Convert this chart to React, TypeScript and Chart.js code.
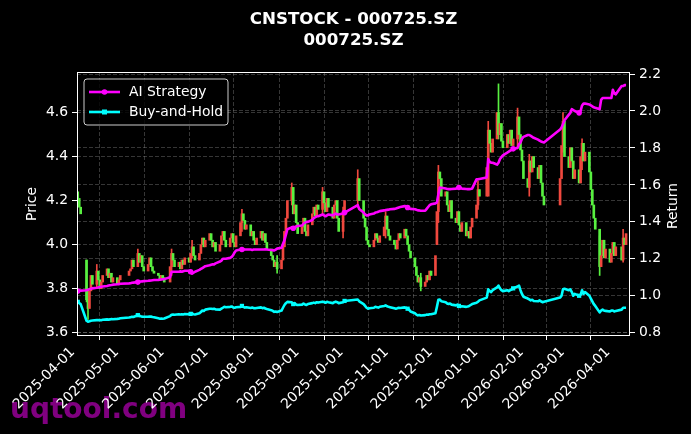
import React, { useEffect, useRef } from "react";
import { Chart, registerables } from "chart.js";
Chart.register(...registerables);

const TITLE_1 = "CNSTOCK - 000725.SZ";
const TITLE_2 = "000725.SZ";
const LEFT_LABEL = "Price";
const RIGHT_LABEL = "Return";
const WATERMARK = "uqtool.com";
const SERIES_NAMES = ["AI Strategy", "Buy-and-Hold"];

const FIRST_DAY = "2025-04-01";
const LAST_DAY = "2026-04-10";
const HOLIDAYS = [
  "2025-04-04", "2025-05-01", "2025-05-02", "2025-05-05", "2025-06-02",
  "2025-10-01", "2025-10-02", "2025-10-03", "2025-10-06", "2025-10-07", "2025-10-08",
  "2026-01-01", "2026-01-02", "2026-02-16", "2026-02-17", "2026-02-18", "2026-02-19",
  "2026-02-20", "2026-02-23", "2026-04-06",
];
const MONTH_TICKS = [
  "2025-04-01", "2025-05-01", "2025-06-01", "2025-07-01", "2025-08-01", "2025-09-01",
  "2025-10-01", "2025-11-01", "2025-12-01", "2026-01-01", "2026-02-01", "2026-03-01", "2026-04-01",
];
const PRICE_TICKS = [3.6, 3.8, 4.0, 4.2, 4.4, 4.6];
const RETURN_TICKS = [0.8, 1.0, 1.2, 1.4, 1.6, 1.8, 2.0, 2.2];

const FIRST_OPEN = 4.24;
const GAP_OPEN_DATES = ["2025-04-07", "2025-12-02", "2026-01-06"];
const GAP_OPENS = [3.93, 4.00, 4.22];
const CLOSE = [
  // Apr 2025
  4.21, 4.17, 4.14, 3.75, 3.71, 3.79, 3.86, 3.82, 3.88, 3.84, 3.80, 3.83, 3.86, 3.89, 3.85, 3.87, 3.83, 3.85, 3.82, 3.84, 3.86,
  // May
  3.88, 3.89, 3.93, 3.90, 3.96, 3.92, 3.95, 3.90, 3.88, 3.91, 3.94, 3.90, 3.88, 3.87, 3.86, 3.84, 3.86, 3.85, 3.83,
  // Jun
  3.90, 3.96, 3.93, 3.90, 3.92, 3.89, 3.93, 3.91, 3.94, 3.92, 3.96, 3.99, 3.95, 3.93, 3.96, 4.00, 4.03, 3.99, 4.02, 4.05,
  // Jul
  4.02, 3.99, 4.01, 3.97, 4.00, 4.04, 4.06, 4.02, 3.99, 4.03, 4.05, 4.01, 3.99, 4.04, 4.10, 4.14, 4.11, 4.07, 4.09, 4.04, 4.06, 4.02, 4.00,
  // Aug
  4.03, 4.06, 4.02, 4.05, 4.01, 3.98, 3.95, 3.93, 3.90, 3.92, 3.89, 3.93, 3.99, 4.06, 4.12, 4.20, 4.26, 4.14, 4.18, 4.10, 4.05,
  // Sep
  4.08, 4.12, 4.06, 4.04, 4.09, 4.14, 4.17, 4.13, 4.18, 4.16, 4.24, 4.19, 4.15, 4.21, 4.17, 4.12, 4.18, 4.20, 4.12, 4.06, 4.15, 4.20,
  // Oct
  4.30, 4.20, 4.12, 4.08, 4.02, 4.00, 3.99, 4.02, 4.05, 4.03, 4.01, 4.04, 4.08, 4.13, 4.07, 4.04, 4.02,
  // Nov
  4.00, 3.98, 4.02, 4.05, 4.03, 4.07, 4.04, 4.00, 3.97, 3.94, 3.90, 3.86, 3.83, 3.85, 3.81, 3.83, 3.86, 3.84, 3.88, 3.86,
  // Dec
  3.95, 4.15, 4.33, 4.30, 4.22, 4.24, 4.18, 4.15, 4.20, 4.12, 4.10, 4.15, 4.09, 4.06, 4.10, 4.04, 4.06, 4.03, 4.08, 4.12, 4.18, 4.25, 4.22,
  // Jan 2026
  4.35, 4.52, 4.46, 4.42, 4.48, 4.60, 4.50, 4.55, 4.47, 4.44, 4.50, 4.46, 4.52, 4.45, 4.48, 4.58, 4.50, 4.43, 4.38, 4.30,
  // Feb
  4.26, 4.38, 4.33, 4.40, 4.35, 4.30, 4.36, 4.28, 4.22, 4.18, 4.30, 4.45, 4.56, 4.40,
  // Mar
  4.35, 4.44, 4.38, 4.30, 4.34, 4.28, 4.40, 4.46, 4.38, 4.42, 4.33, 4.25, 4.18, 4.12, 4.07, 3.90, 3.95, 4.02, 3.94, 3.98, 3.92, 3.96,
  // Apr
  4.01, 3.95, 3.99, 3.93, 4.03, 4.00, 4.05,
];

const AI_STRATEGY = [
  1.026, 1.027, 1.028, 1.03, 1.033, 1.035, 1.038, 1.04, 1.043, 1.045, 1.047, 1.049, 1.05, 1.053, 1.055, 1.057, 1.058, 1.06, 1.062, 1.063, 1.065,
  1.067, 1.068, 1.07, 1.071, 1.074, 1.076, 1.077, 1.078, 1.079, 1.081, 1.082, 1.083, 1.084, 1.085, 1.086, 1.087, 1.088, 1.089, 1.09,
  1.10, 1.13, 1.13, 1.13, 1.13, 1.132, 1.13, 1.133, 1.135, 1.135, 1.13, 1.12, 1.125, 1.13, 1.14, 1.145, 1.15, 1.155, 1.16, 1.165,
  1.168, 1.17, 1.17, 1.175, 1.185, 1.19, 1.2, 1.2, 1.2, 1.205, 1.21, 1.22, 1.235, 1.245, 1.25, 1.25, 1.252, 1.25, 1.25, 1.25, 1.248, 1.25, 1.25,
  1.25, 1.25, 1.25, 1.25, 1.252, 1.25, 1.248, 1.247, 1.245, 1.25, 1.255, 1.26, 1.28, 1.30, 1.33, 1.36, 1.37, 1.365, 1.37, 1.375, 1.378,
  1.38, 1.39, 1.395, 1.40, 1.40, 1.41, 1.42, 1.425, 1.43, 1.43, 1.44, 1.435, 1.43, 1.435, 1.44, 1.435, 1.44, 1.445, 1.44, 1.44, 1.445, 1.45,
  1.49, 1.47, 1.45, 1.44, 1.435, 1.435, 1.44, 1.445, 1.45, 1.452, 1.455, 1.458, 1.462, 1.464, 1.465, 1.466, 1.468,
  1.47, 1.472, 1.475, 1.478, 1.48, 1.485, 1.484, 1.478, 1.472, 1.47, 1.468, 1.465, 1.462, 1.462, 1.46, 1.46, 1.47, 1.48, 1.49, 1.495,
  1.50, 1.505, 1.55, 1.586, 1.585, 1.58, 1.578, 1.577, 1.577, 1.578, 1.58, 1.585, 1.586, 1.583, 1.58, 1.578, 1.577, 1.577, 1.578, 1.58, 1.63, 1.63, 1.632,
  1.64, 1.74, 1.725, 1.72, 1.72, 1.71, 1.72, 1.74, 1.75, 1.76, 1.775, 1.78, 1.785, 1.79, 1.795, 1.80, 1.82, 1.83, 1.85, 1.86,
  1.87, 1.87, 1.865, 1.86, 1.855, 1.845, 1.84, 1.835, 1.832, 1.83, 1.90, 1.91, 1.93, 1.95,
  1.98, 1.99, 2.01, 2.005, 2.0, 1.99, 2.0, 2.03, 2.04, 2.04, 2.035, 2.03, 2.025, 2.02, 2.017, 2.01, 2.06, 2.07, 2.07, 2.07, 2.07, 2.07,
  2.115, 2.095, 2.09, 2.135, 2.135, 2.14, 2.14,
];

const BUY_AND_HOLD = [
  0.967, 0.96, 0.955, 0.865, 0.86, 0.862, 0.865, 0.866, 0.868, 0.868, 0.867, 0.868, 0.87, 0.872, 0.871, 0.872, 0.874, 0.873, 0.875, 0.876, 0.878,
  0.882, 0.884, 0.886, 0.885, 0.895, 0.892, 0.889, 0.887, 0.886, 0.886, 0.888, 0.887, 0.885, 0.884, 0.878, 0.876, 0.877, 0.876, 0.877,
  0.89, 0.897, 0.898, 0.897, 0.9, 0.899, 0.9, 0.899, 0.901, 0.9, 0.902, 0.905, 0.9, 0.899, 0.905, 0.912, 0.92, 0.918, 0.925, 0.93,
  0.93, 0.928, 0.93, 0.926, 0.925, 0.93, 0.935, 0.94, 0.938, 0.94, 0.942, 0.937, 0.935, 0.938, 0.94, 0.945, 0.94, 0.936, 0.938, 0.934, 0.936, 0.933, 0.932,
  0.934, 0.937, 0.933, 0.935, 0.931, 0.928, 0.922, 0.918, 0.913, 0.915, 0.912, 0.92, 0.935, 0.95, 0.96, 0.967, 0.965, 0.955, 0.96, 0.952, 0.95,
  0.952, 0.958, 0.953, 0.95, 0.955, 0.96, 0.963, 0.96, 0.965, 0.963, 0.968, 0.966, 0.962, 0.967, 0.965, 0.96, 0.965, 0.968, 0.965, 0.96, 0.965, 0.972,
  0.98, 0.97, 0.955, 0.945, 0.935, 0.93, 0.932, 0.935, 0.94, 0.938, 0.936, 0.94, 0.945, 0.948, 0.943, 0.94, 0.938,
  0.932, 0.93, 0.932, 0.935, 0.934, 0.937, 0.935, 0.93, 0.925, 0.915, 0.905, 0.898, 0.894, 0.896, 0.893, 0.895, 0.898, 0.897, 0.9, 0.9,
  0.905, 0.94, 0.978, 0.98, 0.97, 0.965, 0.958, 0.955, 0.958, 0.952, 0.948, 0.952, 0.945, 0.94, 0.943, 0.94, 0.942, 0.945, 0.95, 0.955, 0.962, 0.968, 0.975,
  0.99, 1.035, 1.025, 1.02, 1.03, 1.045, 1.055, 1.04, 1.03, 1.025, 1.03, 1.025, 1.03, 1.035, 1.04, 1.05, 1.055, 1.03, 1.01, 0.995,
  0.985, 0.98, 0.975, 0.978, 0.972, 0.97, 0.975, 0.97, 0.965, 0.968, 0.99, 1.0, 1.035, 1.038,
  1.03, 1.035, 1.02, 1.0, 1.01, 1.0, 1.005, 1.03, 1.01, 1.02, 1.0, 0.985, 0.97, 0.955, 0.945, 0.91, 0.92, 0.925, 0.92, 0.918, 0.915, 0.92,
  0.92, 0.915, 0.918, 0.925, 0.935, 0.935, 0.935,
];

// notable wicks (date, low, high)
const WICK_DATES = [
  "2025-04-07", "2025-04-08", "2025-04-14", "2025-05-12", "2025-06-04", "2025-06-18", "2025-07-22", "2025-08-15",
  "2025-08-25", "2025-09-15", "2025-09-29", "2025-10-09", "2025-10-28", "2025-11-21", "2025-12-03", "2025-12-30",
  "2026-01-06", "2026-01-13", "2026-01-26", "2026-02-03", "2026-02-26", "2026-03-11", "2026-03-23", "2026-04-08",
];
const WICK_LOW = [3.74, 3.66, 3.80, 3.90, 3.86, 3.94, 4.06, 3.87, 4.18, 4.14, 4.03, 4.17, 4.03, 3.79, 4.10, 4.16, 4.30, 4.48, 4.44, 4.22, 4.42, 4.34, 3.86, 3.92];
const WICK_HIGH = [3.93, 3.80, 3.91, 3.98, 3.98, 4.02, 4.16, 3.95, 4.28, 4.26, 4.17, 4.34, 4.15, 3.87, 4.36, 4.29, 4.56, 4.73, 4.62, 4.41, 4.60, 4.48, 4.04, 4.07];

const UP = "#f0483e";
const DOWN = "#58f040";
const MAGENTA = "#ff00ff";
const CYAN = "#00ffff";
const FONT = "'DejaVu Sans', sans-serif";

const DAY = 86400000;
const t0 = Date.parse(FIRST_DAY + "T00:00:00Z");
const offsetOf = (iso: string) => (Date.parse(iso + "T00:00:00Z") - t0) / DAY;
const isoOf = (ms: number) => new Date(ms).toISOString().slice(0, 10);

function tradingDays(): string[] {
  const out: string[] = [];
  const end = Date.parse(LAST_DAY + "T00:00:00Z");
  for (let t = t0; t <= end; t += DAY) {
    const wd = new Date(t).getUTCDay();
    const iso = isoOf(t);
    if (wd === 0 || wd === 6 || HOLIDAYS.includes(iso)) continue;
    out.push(iso);
  }
  return out;
}

export default function App() {
  const ref = useRef<HTMLCanvasElement | null>(null);
  useEffect(() => {
    document.body.style.margin = "0";
    document.body.style.background = "#000";
    const dates = tradingDays();
    const n = Math.min(dates.length, CLOSE.length, AI_STRATEGY.length, BUY_AND_HOLD.length);
    const xs = dates.slice(0, n).map(offsetOf);
    const opens = CLOSE.slice(0, n).map((_, i) => {
      const g = GAP_OPEN_DATES.indexOf(dates[i]);
      if (g >= 0) return GAP_OPENS[g];
      return i === 0 ? FIRST_OPEN : CLOSE[i - 1];
    });
    const candleData = xs.map((x, i) => ({ x, y: [opens[i], CLOSE[i]] }));
    const candleColors = xs.map((_, i) => (CLOSE[i] >= opens[i] ? UP : DOWN));
    const wickData = WICK_DATES.map((d, i) => ({ x: offsetOf(d), y: [WICK_LOW[i], WICK_HIGH[i]] }));
    const wickColors = WICK_DATES.map((d) => {
      const i = dates.indexOf(d);
      return i >= 0 && CLOSE[i] >= opens[i] ? UP : DOWN;
    });
    const aiData = xs.map((x, i) => ({ x, y: AI_STRATEGY[i] }));
    const bhData = xs.map((x, i) => ({ x, y: BUY_AND_HOLD[i] }));
    const monthVals = MONTH_TICKS.map(offsetOf);

    const decor = {
      id: "decor",
      beforeDraw(chart: any) {
        const ctx = chart.ctx;
        ctx.save();
        ctx.fillStyle = "#000";
        ctx.fillRect(0, 0, chart.width, chart.height);
        ctx.restore();
      },
      afterDraw(chart: any) {
        const ctx = chart.ctx;
        const a = chart.chartArea;
        ctx.save();
        // frame
        ctx.strokeStyle = "#ffffff";
        ctx.lineWidth = 1;
        ctx.strokeRect(a.left + 0.5, a.top + 0.5, a.right - a.left - 1, a.bottom - a.top);
        // watermark (under the tick labels)
        ctx.font = `bold 28px ${FONT}`;
        ctx.textAlign = "left";
        ctx.textBaseline = "alphabetic";
        ctx.fillStyle = "rgba(150,0,150,0.85)";
        ctx.fillText(WATERMARK, 10, 418);
        // x tick labels, rotated 45 deg, bbox right at tick, bbox top below tick mark
        ctx.fillStyle = "#ffffff";
        ctx.font = `13.9px ${FONT}`;
        const xs2 = chart.scales.x;
        const asc = 13.9 * 0.76, desc = 13.9 * 0.24;
        const c = Math.SQRT1_2;
        MONTH_TICKS.forEach((lab, i) => {
          const px = xs2.getPixelForValue(monthVals[i]);
          const w = ctx.measureText(lab).width;
          const X = px - (w * c + desc * c);
          const Y = a.bottom + 10 + w * c + asc * c;
          ctx.save();
          ctx.translate(X, Y);
          ctx.rotate(-Math.PI / 4);
          ctx.fillText(lab, 0, 0);
          ctx.restore();
        });
        // title
        ctx.fillStyle = "#ffffff";
        ctx.textAlign = "center";
        ctx.textBaseline = "alphabetic";
        ctx.font = `bold 16.7px ${FONT}`;
        ctx.fillText(TITLE_1, 353.5, 24);
        ctx.fillText(TITLE_2, 353.5, 45);
        // axis titles
        ctx.font = `13.9px ${FONT}`;
        ctx.textBaseline = "middle";
        ctx.save();
        ctx.translate(32, 204);
        ctx.rotate(-Math.PI / 2);
        ctx.fillText(LEFT_LABEL, 0, 0);
        ctx.restore();
        ctx.save();
        ctx.translate(673, 206);
        ctx.rotate(-Math.PI / 2);
        ctx.fillText(RIGHT_LABEL, 0, 0);
        ctx.restore();
        // legend
        const bx = 84, by = 79, bw = 144, bh = 46, r = 3;
        ctx.beginPath();
        ctx.moveTo(bx + r, by);
        ctx.arcTo(bx + bw, by, bx + bw, by + bh, r);
        ctx.arcTo(bx + bw, by + bh, bx, by + bh, r);
        ctx.arcTo(bx, by + bh, bx, by, r);
        ctx.arcTo(bx, by, bx + bw, by, r);
        ctx.closePath();
        ctx.fillStyle = "rgba(0,0,0,0.8)";
        ctx.fill();
        ctx.strokeStyle = "rgba(255,255,255,0.8)";
        ctx.lineWidth = 1;
        ctx.stroke();
        const rows = [
          { y: 92, color: MAGENTA, label: SERIES_NAMES[0], square: false },
          { y: 112, color: CYAN, label: SERIES_NAMES[1], square: true },
        ];
        rows.forEach((row) => {
          ctx.strokeStyle = row.color;
          ctx.lineWidth = 2.6;
          ctx.beginPath();
          ctx.moveTo(89, row.y);
          ctx.lineTo(120, row.y);
          ctx.stroke();
          ctx.fillStyle = row.color;
          if (row.square) {
            ctx.fillRect(102, row.y - 2.5, 5, 5);
          } else {
            ctx.beginPath();
            ctx.arc(104.5, row.y, 2.8, 0, Math.PI * 2);
            ctx.fill();
          }
          ctx.fillStyle = "#ffffff";
          ctx.textAlign = "left";
          ctx.textBaseline = "middle";
          ctx.font = `13.9px ${FONT}`;
          ctx.fillText(row.label, 129, row.y + 0.5);
        });
        ctx.restore();
      },
    };

    const gridCommon = {
      color: "rgba(150,150,150,0.45)",
      lineWidth: 0.8,
      drawTicks: true,
      tickLength: 5,
      tickColor: "#ffffff",
      tickWidth: 1,
      tickBorderDash: [],
    };

    const chart = new Chart(ref.current as HTMLCanvasElement, {
      type: "bar",
      data: {
        datasets: [
          {
            type: "line",
            label: SERIES_NAMES[0],
            data: aiData,
            yAxisID: "y1",
            borderColor: MAGENTA,
            backgroundColor: MAGENTA,
            borderWidth: 2.6,
            borderJoinStyle: "round",
            pointRadius: (c: any) => (c.dataIndex % 25 === 0 ? 2.8 : 0),
            pointBorderWidth: 0,
            pointStyle: "circle",
            tension: 0,
            order: 1,
          } as any,
          {
            type: "line",
            label: SERIES_NAMES[1],
            data: bhData,
            yAxisID: "y1",
            borderColor: CYAN,
            backgroundColor: CYAN,
            borderWidth: 2.6,
            borderJoinStyle: "round",
            pointRadius: (c: any) => (c.dataIndex % 25 === 0 ? 3 : 0),
            pointBorderWidth: 0,
            pointStyle: "rect",
            tension: 0,
            order: 2,
          } as any,
          {
            type: "bar",
            label: "body",
            data: candleData as any,
            yAxisID: "y",
            backgroundColor: candleColors,
            barThickness: 2,
            grouped: false,
            order: 3,
          } as any,
          {
            type: "bar",
            label: "wick",
            data: wickData as any,
            yAxisID: "y",
            backgroundColor: wickColors,
            barThickness: 1,
            grouped: false,
            order: 4,
          } as any,
        ],
      },
      options: {
        responsive: false,
        animation: false,
        devicePixelRatio: 1,
        layout: { padding: { top: 72, left: 0, right: 0, bottom: 0 } },
        plugins: { legend: { display: false }, title: { display: false }, tooltip: { enabled: false } },
        scales: {
          x: {
            type: "linear",
            min: -0.5,
            max: 376.7,
            offset: false,
            grid: { ...gridCommon },
            border: { display: false, dash: [4, 2] },
            ticks: { display: false },
            afterBuildTicks: (s: any) => {
              s.ticks = monthVals.map((v) => ({ value: v }));
            },
            afterFit: (s: any) => {
              s.height = 99;
            },
          },
          y: {
            type: "linear",
            position: "left",
            min: 3.5896,
            max: 4.784,
            grid: { ...gridCommon },
            border: { display: false, dash: [4, 2] },
            ticks: {
              color: "#ffffff",
              font: { family: FONT, size: 13.9 },
              padding: 4,
              callback: (v: any) => Number(v).toFixed(1),
            },
            afterBuildTicks: (s: any) => {
              s.ticks = PRICE_TICKS.map((v) => ({ value: v }));
            },
            afterFit: (s: any) => {
              s.width = 77;
            },
          },
          y1: {
            type: "linear",
            position: "right",
            min: 0.7876,
            max: 2.211,
            grid: { ...gridCommon },
            border: { display: false, dash: [4, 2] },
            ticks: {
              color: "#ffffff",
              font: { family: FONT, size: 13.9 },
              padding: 4,
              callback: (v: any) => Number(v).toFixed(1),
            },
            afterBuildTicks: (s: any) => {
              s.ticks = RETURN_TICKS.map((v) => ({ value: v }));
            },
            afterFit: (s: any) => {
              s.width = 61;
            },
          },
        },
      } as any,
      plugins: [decor],
    });
    return () => chart.destroy();
  }, []);

  return (
    <div style={{ width: 691, height: 434, background: "#000" }}>
      <canvas ref={ref} width={691} height={434} style={{ display: "block", width: 691, height: 434 }} />
    </div>
  );
}
